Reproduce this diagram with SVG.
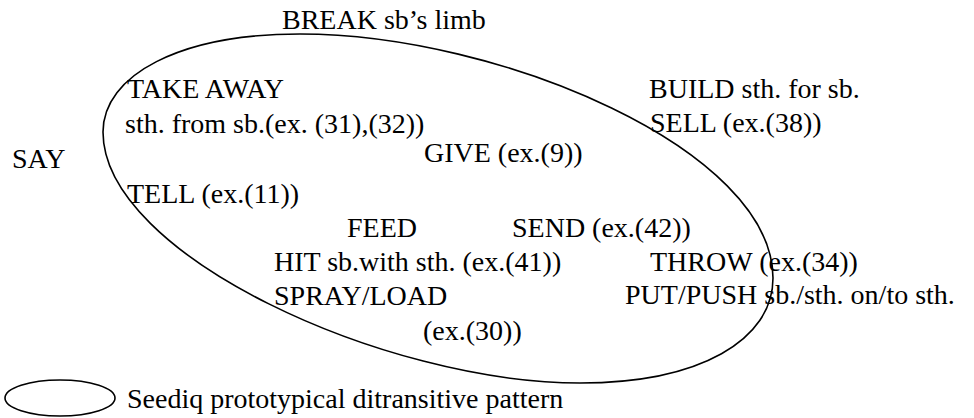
<svg xmlns="http://www.w3.org/2000/svg" width="974" height="418" viewBox="0 0 974 418">
<style>
text { font-family: 'Liberation Serif', 'Times New Roman', Times, serif; font-size: 28px; fill: #000; }
.ell { fill: none; stroke: #000; stroke-width: 1.6; }
</style>
<rect width="974" height="418" fill="#fff"/>
<g id="connectors">
<path class="ell" d="M300,34 C180,34 103,75 103,132 C103,255 385,383 580,383 C700,383 773,340 773,278 C773,150 500,34 300,34 Z"/>
</g>
<g font-family="Liberation Serif, Times New Roman, serif" font-size="28">
<g id="break"><text x="282" y="29">BREAK sb’s limb</text></g>
<g id="take-away"><text x="127" y="98">TAKE AWAY</text><text x="125" y="133">sth. from sb.(ex. (31),(32))</text></g>
<g id="build"><text x="649" y="98">BUILD sth. for sb.</text></g>
<g id="sell"><text x="650" y="132">SELL (ex.(38))</text></g>
<g id="say"><text x="12" y="168">SAY</text></g>
<g id="give"><text x="424" y="162">GIVE (ex.(9))</text></g>
<g id="tell"><text x="127" y="203">TELL (ex.(11))</text></g>
<g id="feed"><text x="347" y="237">FEED</text></g>
<g id="send"><text x="512" y="237">SEND (ex.(42))</text></g>
<g id="hit"><text x="274" y="271">HIT sb.with sth. (ex.(41))</text></g>
<g id="throw"><text x="650" y="271">THROW (ex.(34))</text></g>
<g id="spray"><text x="274" y="305">SPRAY/LOAD</text><text x="423" y="340">(ex.(30))</text></g>
<g id="put"><text x="625" y="304">PUT/PUSH sb./sth. on/to sth.</text></g>
<g id="legend">
<ellipse class="ell" cx="60" cy="398" rx="55" ry="18" stroke-width="2"/>
<text x="127" y="408">Seediq prototypical ditransitive pattern</text>
</g>
</g>
</svg>
